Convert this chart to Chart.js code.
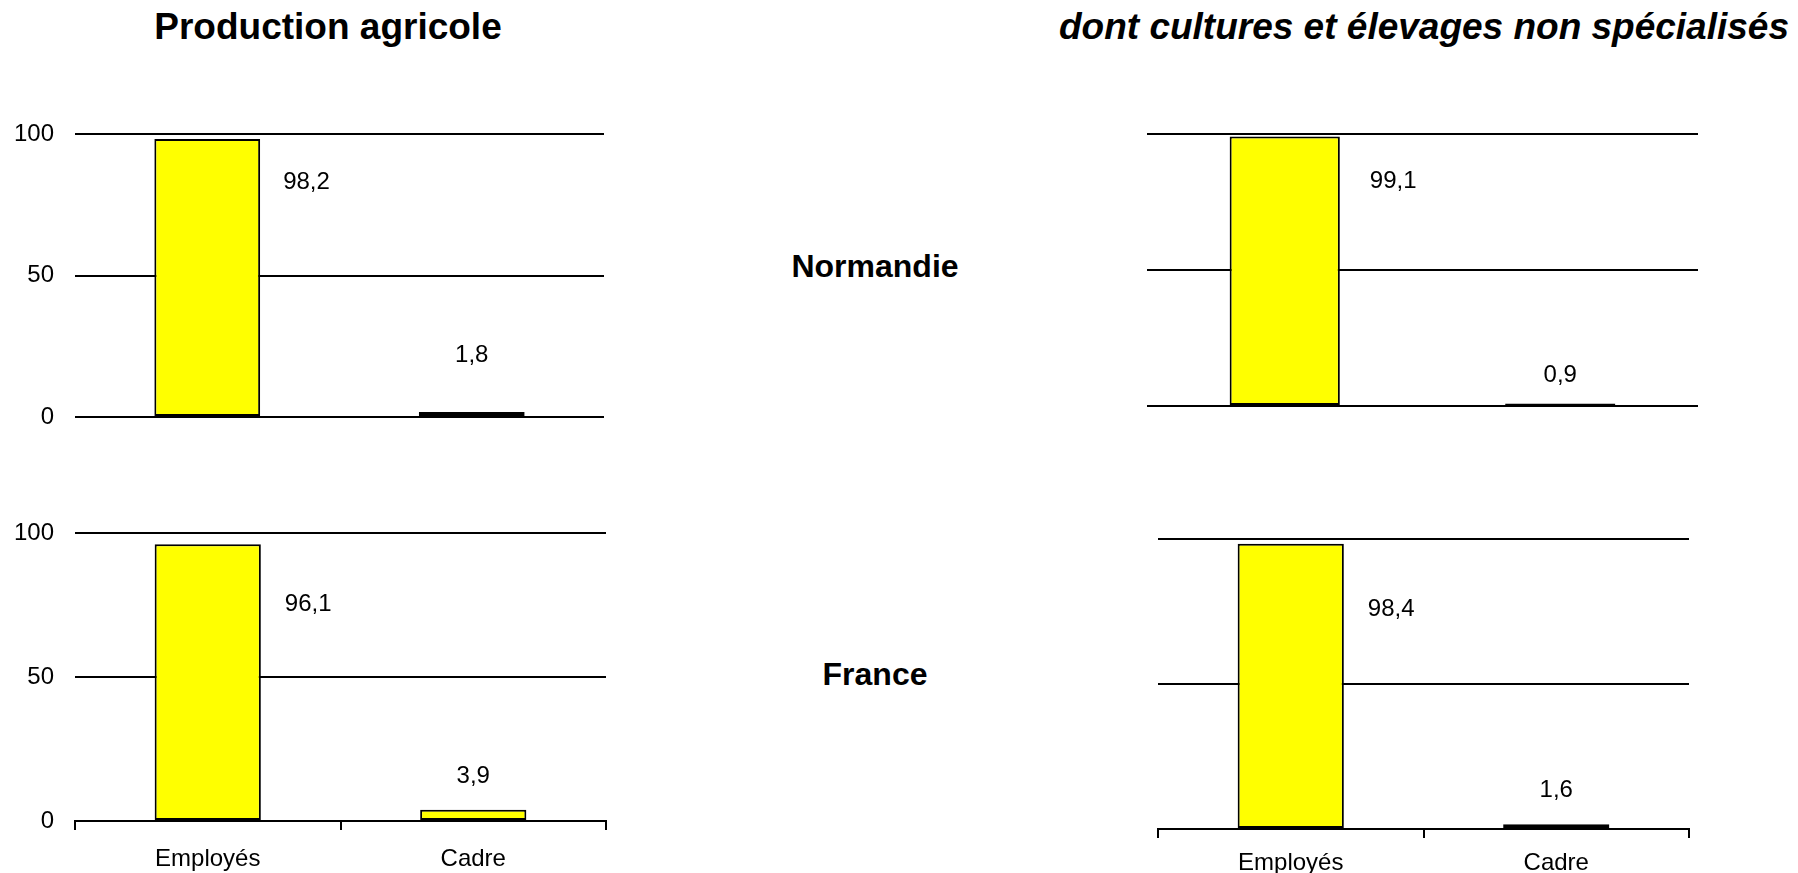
<!DOCTYPE html>
<html>
<head>
<meta charset="utf-8">
<script src="https://cdn.jsdelivr.net/npm/chart.js@4/dist/chart.umd.min.js"></script>
<style>
  body { margin: 0; background: #fff; width: 1798px; height: 873px; position: relative; overflow: hidden;
         font-family: "Liberation Sans", Arial, sans-serif; color: #000; }
  .panel { position: absolute; }
  .txt { position: absolute; white-space: nowrap; transform: translateX(-50%); font-weight: bold; }
  .title { font-size: 37px; line-height: 37px; }
  .row { font-size: 32px; line-height: 32px; }
</style>
</head>
<body>
<div class="panel" id="p-tl" style="left:0px;top:119px;width:606px;height:313px"><canvas id="c-tl"></canvas></div>
<div class="panel" id="p-tr" style="left:1140px;top:124px;width:560px;height:290px"><canvas id="c-tr"></canvas></div>
<div class="panel" id="p-bl" style="left:0px;top:518px;width:608px;height:355px"><canvas id="c-bl"></canvas></div>
<div class="panel" id="p-br" style="left:1150px;top:526px;width:540px;height:347px"><canvas id="c-br"></canvas></div>

<div class="txt title" style="left:328px;top:8px">Production agricole</div>
<div class="txt title" style="left:1424px;top:8px;font-style:italic">dont cultures et élevages non spécialisés</div>
<div class="txt row" style="left:875px;top:250px">Normandie</div>
<div class="txt row" style="left:875px;top:658px">France</div>

<script>
// ~~~~~~~~~~~~~~~~~~~~~~~~~~~~~~~~~~~~~~~~~~~~~~~~~~~~~~~~~~~~~~~~~~~~~~~~~
// DATA (en %)
const categories = ["Employés", "Cadre"];
const prodNormandie = [98.2, 1.8];
const prodFrance = [96.1, 3.9];
const nonSpecNormandie = [99.1, 0.9];
const nonSpecFrance = [98.4, 1.6];
const yTicks = [0, 50, 100];

const FONT = "'Liberation Sans', Arial, sans-serif";

// ~~~~~~~~~~~~~~~~~~~~~~~~~~~~~~~~~~~~~~~~~~~~~~~~~~~~~~~~~~~~~~~~~~~~~~~~~
// value labels, placed like the excel original
const valueLabels = {
  id: "valueLabels",
  afterDatasetsDraw(chart, args, opts) {
    const ctx = chart.ctx;
    const meta = chart.getDatasetMeta(0);
    const values = chart.data.datasets[0].data;
    ctx.save();
    ctx.font = "24px " + FONT;
    ctx.fillStyle = "#000";
    ctx.textBaseline = "middle";
    meta.data.forEach((bar, i) => {
      const txt = values[i].toFixed(1).replace(".", ",");
      if (i == 0) {
        ctx.textAlign = "left";
        ctx.fillText(txt, bar.x + bar.width / 2 + opts.sideDx, bar.y + opts.sideDy);
      } else {
        ctx.textAlign = "center";
        ctx.fillText(txt, bar.x, bar.y + opts.topDy);
      }
    });
    ctx.restore();
  },
};

const makeChart = (id, values, opt) => {
  return new Chart(document.getElementById(id), {
    type: "bar",
    data: {
      labels: categories,
      datasets: [
        {
          data: values,
          backgroundColor: "#ffff00",
          borderColor: "#000",
          borderWidth: 2,
          borderSkipped: false,
          barPercentage: 0.4,
          categoryPercentage: 1,
        },
      ],
    },
    options: {
      responsive: true,
      maintainAspectRatio: false,
      animation: false,
      layout: { padding: { top: opt.padTop, right: opt.padRight, left: 0, bottom: 0 } },
      plugins: {
        legend: { display: false },
        tooltip: { enabled: false },
        valueLabels: opt.labels,
      },
      scales: {
        x: {
          grid: {
            display: opt.showX,
            drawOnChartArea: false,
            color: "#000",
            lineWidth: 2,
            tickLength: 9,
          },
          border: { display: opt.showX, color: "#000", width: 2 },
          ticks: {
            display: opt.showX,
            color: "#000",
            padding: opt.xPad,
            font: { family: FONT, size: 24 },
          },
          afterFit: (scale) => {
            scale.height = opt.xHeight;
          },
        },
        y: {
          min: 0,
          max: 100,
          afterBuildTicks: (scale) => {
            scale.ticks = yTicks.map((v) => ({ value: v }));
          },
          // invisible tick marks keep the labels away from the grid
          grid: { color: "#000", lineWidth: 2, drawTicks: true, tickLength: 21, tickColor: "rgba(0,0,0,0)" },
          border: { display: false },
          ticks: {
            display: opt.showY,
            color: "#000",
            padding: 0,
            font: { family: FONT, size: 24 },
          },
          afterFit: (scale) => {
            scale.width = opt.yWidth;
          },
        },
      },
    },
    plugins: [valueLabels],
  });
};

// ~~~~~~~~~~~~~~~~~~~~~~~~~~~~~~~~~~~~~~~~~~~~~~~~~~~~~~~~~~~~~~~~~~~~~~~~~
// 4 PANELS
makeChart("c-tl", prodNormandie, {
  padTop: 15, padRight: 2, xHeight: 15, xPad: 10, yWidth: 75, showX: false, showY: true,
  labels: { sideDx: 23, sideDy: 43, topDy: -57 },
});
makeChart("c-tr", nonSpecNormandie, {
  padTop: 10, padRight: 2, xHeight: 8, xPad: 10, yWidth: 7, showX: false, showY: false,
  labels: { sideDx: 30, sideDy: 45, topDy: -28 },
});
makeChart("c-bl", prodFrance, {
  padTop: 15, padRight: 2, xHeight: 52, xPad: 15, yWidth: 75, showX: true, showY: true,
  labels: { sideDx: 24, sideDy: 60, topDy: -33 },
});
makeChart("c-br", nonSpecFrance, {
  padTop: 13, padRight: 1, xHeight: 44, xPad: 11, yWidth: 8, showX: true, showY: false,
  labels: { sideDx: 24, sideDy: 66, topDy: -34 },
});
</script>
</body>
</html>
